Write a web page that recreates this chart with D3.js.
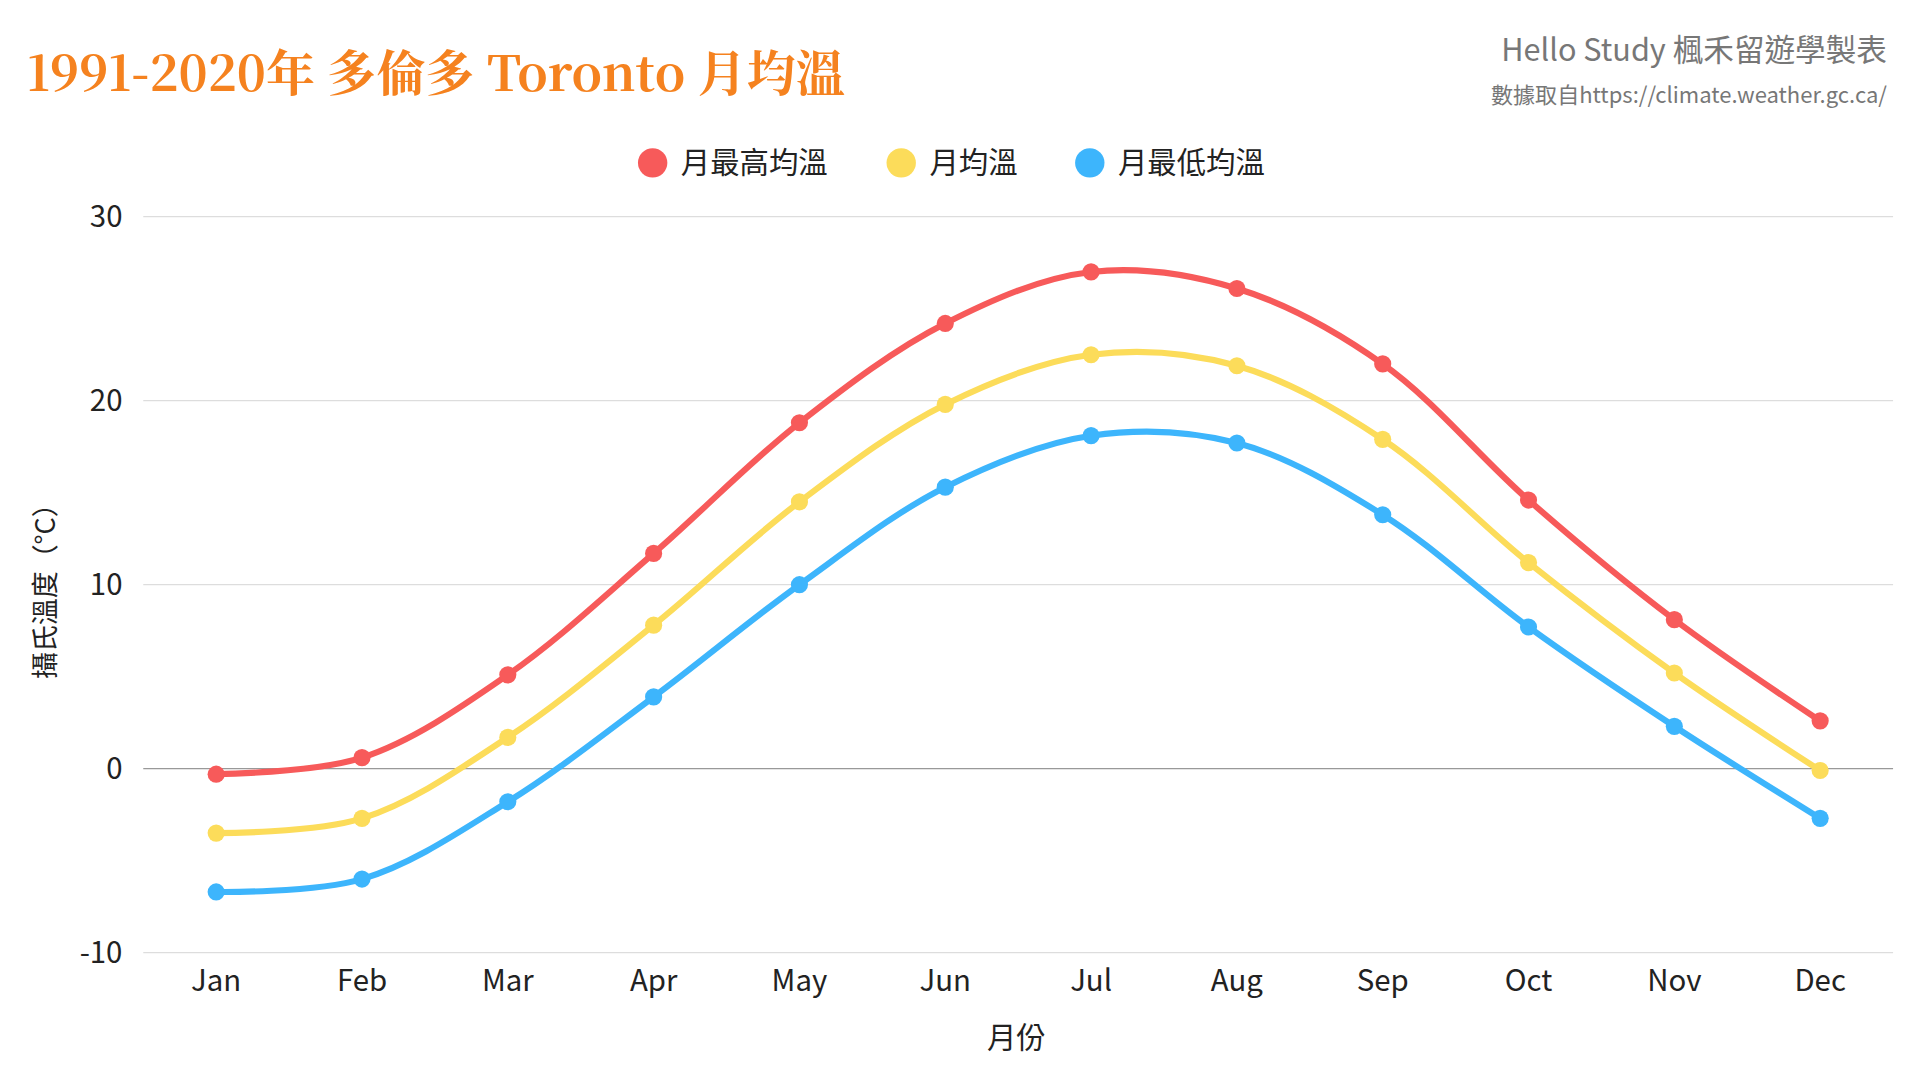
<!doctype html>
<html lang="zh-Hant">
<head>
  <meta charset="UTF-8">
  <title>Toronto 月均溫</title>
  <style>
    body { margin: 0; background: #fff; }
    svg { display: block; font-family: "Noto Sans CJK TC", "Noto Sans", sans-serif; }
  </style>
  <script src="https://cdn.jsdelivr.net/npm/d3@7"></script>
</head>
<body>
  <div id="container"></div>
  <script>
    var months = ['Jan', 'Feb', 'Mar', 'Apr', 'May', 'Jun', 'Jul', 'Aug', 'Sep', 'Oct', 'Nov', 'Dec'];
    var highTemp = [-0.3, 0.6, 5.1, 11.7, 18.8, 24.2, 27.0, 26.1, 22.0, 14.6, 8.1, 2.6];
    var meanTemp = [-3.5, -2.7, 1.7, 7.8, 14.5, 19.8, 22.5, 21.9, 17.9, 11.2, 5.2, -0.1];
    var lowTemp = [-6.7, -6.0, -1.8, 3.9, 10.0, 15.3, 18.1, 17.7, 13.8, 7.7, 2.3, -2.7];
    var seriesNames = ['月最高均溫', '月均溫', '月最低均溫'];
    var colors = ['#f75a5a', '#fcdc5a', '#3db5fc'];
    var yTicks = [-10, 0, 10, 20, 30];

    var width = 1568, height = 882;
    var margin = { left: 117, right: 22, top: 177, bottom: 104 };

    var svg = d3.select('#container').append('svg')
      .attr('viewBox', '0 0 ' + width + ' ' + height)
      .attr('width', 1920).attr('height', 1080);

    var x = d3.scalePoint().domain(months)
      .range([margin.left, width - margin.right]).padding(0.5);
    var y = d3.scaleLinear().domain([-10, 30])
      .range([height - margin.bottom, margin.top]);

    // 格線
    svg.append('g').selectAll('line').data(yTicks).join('line')
      .attr('x1', margin.left).attr('x2', width - margin.right)
      .attr('y1', d => y(d)).attr('y2', d => y(d))
      .attr('stroke', d => d === 0 ? '#999' : '#ddd').attr('stroke-width', 1);

    svg.append('g').selectAll('text').data(yTicks).join('text')
      .attr('x', 100).attr('y', d => y(d)).attr('dy', '0.35em')
      .attr('text-anchor', 'end').attr('font-size', 24).attr('fill', '#222')
      .text(d => d);

    svg.append('g').selectAll('text').data(months).join('text')
      .attr('x', d => x(d)).attr('y', 809)
      .attr('text-anchor', 'middle').attr('font-size', 24).attr('fill', '#222')
      .text(d => d);

    svg.append('text').attr('x', 830).attr('y', 856).attr('text-anchor', 'middle')
      .attr('font-size', 24).attr('fill', '#222').text('月份');
    svg.append('text').attr('transform', 'translate(45,' + y(10) + ') rotate(-90)')
      .attr('text-anchor', 'middle').attr('font-size', 22).attr('fill', '#222')
      .text('攝氏溫度（°C）');

    var line = d3.line().x((d, i) => x(months[i])).y(d => y(d)).curve(d3.curveCatmullRom.alpha(0.5));
    [highTemp, meanTemp, lowTemp].forEach(function (vals, k) {
      var g = svg.append('g');
      g.append('path').attr('d', line(vals)).attr('fill', 'none')
        .attr('stroke', colors[k]).attr('stroke-width', 5);
      g.selectAll('circle').data(vals).join('circle')
        .attr('cx', (d, i) => x(months[i])).attr('cy', d => y(d))
        .attr('r', 7).attr('fill', colors[k]);
    });

    // 圖例
    var legendX = [533, 736, 890];
    seriesNames.forEach(function (n, k) {
      svg.append('circle').attr('cx', legendX[k]).attr('cy', 133).attr('r', 12).attr('fill', colors[k]);
      svg.append('text').attr('x', legendX[k] + 23).attr('y', 133).attr('dy', '0.35em')
        .attr('font-size', 24).attr('fill', '#222').text(n);
    });

    svg.append('text').attr('x', 22).attr('y', 74).attr('font-size', 40).attr('font-weight', 'bold')
      .attr('fill', '#f5821f').attr('font-family', '"Noto Serif CJK TC", "DejaVu Serif", serif')
      .attr('textLength', 668).attr('lengthAdjust', 'spacingAndGlyphs')
      .text('1991-2020年 多倫多 Toronto 月均溫');
    svg.append('text').attr('x', 1541).attr('y', 50).attr('text-anchor', 'end')
      .attr('font-size', 25).attr('fill', '#777').text('Hello Study 楓禾留遊學製表');
    svg.append('text').attr('x', 1541).attr('y', 84).attr('text-anchor', 'end')
      .attr('font-size', 18).attr('fill', '#777').text('數據取自https://climate.weather.gc.ca/');
  </script>
</body>
</html>
